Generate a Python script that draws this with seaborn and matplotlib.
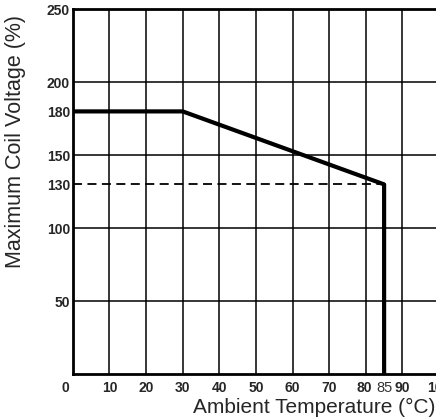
import seaborn as sns
import matplotlib.pyplot as plt
import matplotlib.transforms as mtransforms
import pandas as pd

# derating curve
temp = [0, 30, 85, 85]
voltage = [180, 180, 130, 0]
# dashed reference at 130 %
ref_temp = [0, 85]
ref_volt = [130, 130]

xticks = [0, 10, 20, 30, 40, 50, 60, 70, 80, 85, 90, 100]
yticks = [50, 100, 130, 150, 180, 200, 250]
xgrid = [10, 20, 30, 40, 50, 60, 70, 80, 90, 100]
ygrid = [50, 100, 150, 200, 250]

sns.set_style("white")
plt.rcParams['font.family'] = ['Liberation Sans', 'DejaVu Sans']

fig = plt.figure(figsize=(4.36, 4.19), dpi=100)
ax = fig.add_axes([0.167, 0.107, 0.84, 0.871])

for x in xgrid:
    ax.axvline(x, color='black', lw=1.1, zorder=1)
for y in ygrid:
    ax.axhline(y, color='black', lw=1.1, zorder=1)

df = pd.DataFrame({'temp': temp, 'voltage': voltage})
sns.lineplot(x='temp', y='voltage', data=df, sort=False, estimator=None,
             color='black', lw=3, ax=ax, zorder=3)
dref = pd.DataFrame({'temp': ref_temp, 'voltage': ref_volt})
sns.lineplot(x='temp', y='voltage', data=dref, estimator=None, color='black',
             lw=1.3, linestyle=(0, (5, 3)), ax=ax, zorder=2)

ax.set_xlim(0, 100)
ax.set_ylim(0, 250)
for s in ['left', 'bottom', 'top']:
    ax.spines[s].set_linewidth(2)
    ax.spines[s].set_color('black')
ax.spines['right'].set_visible(False)

ax.set_xticks(xticks)
ax.set_xticklabels([str(t) for t in xticks])
ax.set_yticks(yticks)
ax.set_yticklabels([str(t) for t in yticks])
ax.tick_params(axis='y', length=0, labelsize=10, pad=2)
ax.tick_params(axis='x', length=0, labelsize=10, pad=5)
for lab in ax.get_xticklabels() + ax.get_yticklabels():
    lab.set_fontweight('bold')
for lab in ax.get_xticklabels():
    if lab.get_text() == '85':
        lab.set_fontweight('normal')
        lab.set_color('#333333')
        lab.set_fontsize(10.5)
    if lab.get_text() == '0':
        lab.set_transform(lab.get_transform() +
                          mtransforms.ScaledTranslation(-0.07, 0, fig.dpi_scale_trans))
    if lab.get_text() == '80':
        lab.set_transform(lab.get_transform() +
                          mtransforms.ScaledTranslation(-0.02, 0, fig.dpi_scale_trans))

ax.set_xlabel("")
ax.set_ylabel("")
fig.text(0.035, 0.663, "Maximum Coil Voltage (%)", rotation=90, ha='center',
         va='center', fontsize=15.5)
fig.text(0.998, 0.005, "Ambient Temperature (°C)", ha='right', va='bottom', fontsize=15)

plt.savefig("out.png", dpi=100)
